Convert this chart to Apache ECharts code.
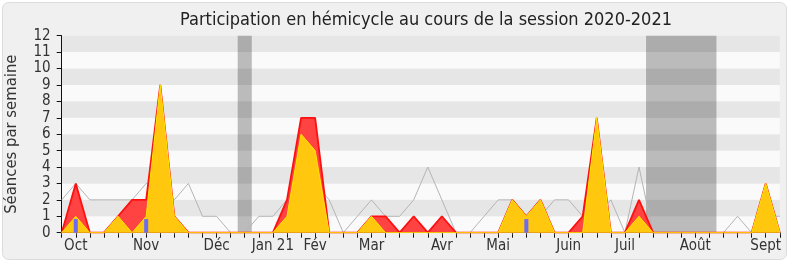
<!DOCTYPE html>
<html><head><meta charset="utf-8">
<script src="https://cdn.jsdelivr.net/npm/echarts@6/dist/echarts.min.js"></script>
<style>html,body{margin:0;padding:0;background:#fff}#c{width:790px;height:267px}</style>
</head><body><div id="c"></div>
<script>
// weekly data, week index 0..51
const presences = [0,3,0,0,1,2,2,9,1,0,0,0,0,0,0,0,2,7,7,0,0,0,1,1,0,1,0,1,0,0,0,0,2,1,2,0,0,1,7,0,0,2,0,0,0,0,0,0,0,0,3,0];
const interventions = [0,1,0,0,1,0,1,9,1,0,0,0,0,0,0,0,1,6,5,0,0,0,1,0,0,0,0,0,0,0,0,0,2,1,2,0,0,0,7,0,0,1,0,0,0,0,0,0,0,0,3,0];
const mediane = [2,3,2,2,2,2,3,3,2,3,1,1,0,0,1,1,2,3,3,2,0,1,2,1,1,2,4,2,0,0,1,2,2,1,1,2,2,1,1,2,0,4,0,0,0,0,0,0,1,0,1,1];
const questionWeeks = [1,6,33];
const questionValues = [0.83,0.83,0.83];
const monthWeeks = [1,6,11,15,18,22,27,31,36,40,45,50];
const monthLabels = ['Oct','Nov','Déc','Jan 21','Fév','Mar','Avr','Mai','Juin','Juil','Août','Sept'];
const vacations = [[12.5,13.5],[41.5,46.5]];
const yTicks = [0,1,2,3,4,5,6,7,8,9,10,11,12];

const FONT = "'DejaVu Sans Condensed','DejaVu Sans',sans-serif";
const pair = arr => arr.map((v,i)=>[i,v]);
const labelMap = {};
monthWeeks.forEach((w,i)=>labelMap[w]=monthLabels[i]);

const chart = echarts.init(document.getElementById('c'), null, {renderer:'canvas'});
chart.setOption({
  animation:false,
  backgroundColor:'transparent',
  graphic:[
    {type:'rect', z:-10, shape:{x:2.5,y:2.5,width:784,height:257,r:6}, style:{fill:'#f0f0f0',stroke:'#dcdcdc',lineWidth:1}},
    {type:'text', z:10, x:426, y:20, style:{text:'Participation en hémicycle au cours de la session 2020-2021', font:"18px "+FONT, fill:'#222', align:'center', verticalAlign:'middle'}}
  ],
  grid:{left:61.7, right:10.2, top:35.7, bottom:34.3, containLabel:false, outerBoundsMode:'none'},
  xAxis:[{
    type:'value', min:0, max:51, interval:1,
    axisLine:{show:true, onZero:false, lineStyle:{color:'#111',width:1}},
    axisTick:{show:true, inside:false, length:5, lineStyle:{color:'#111'}},
    splitLine:{show:false},
    axisLabel:{show:true, margin:6, fontSize:15, fontFamily:FONT, color:'#333', showMinLabel:true, showMaxLabel:true, hideOverlap:false,
      formatter:v=> labelMap[Math.round(v)] || ''}
  },{
    type:'value', min:0, max:51, interval:1, position:'top',
    axisLine:{show:false},
    axisTick:{show:true, inside:true, length:2, lineStyle:{color:'#444'}},
    axisLabel:{show:false}, splitLine:{show:false}
  }],
  yAxis:{
    type:'value', min:0, max:12, interval:1,
    name:'Séances par semaine', nameLocation:'middle', nameRotate:90, nameGap:41,
    nameTextStyle:{fontSize:16.5, fontFamily:FONT, color:'#333'},
    axisLine:{show:true, lineStyle:{color:'#111'}},
    axisTick:{show:true, length:5, lineStyle:{color:'#111'}},
    axisLabel:{margin:11, fontSize:15, fontFamily:FONT, color:'#333', showMinLabel:true, showMaxLabel:true, hideOverlap:false,
      formatter:v=>yTicks.includes(v)?String(v):''},
    splitLine:{show:false},
    splitArea:{show:true, areaStyle:{color:['#fafafa','#e6e6e6']}}
  },
  series:[
    {type:'line', name:'mediane', data:pair(mediane), symbol:'none', z:2,
     lineStyle:{color:'#b4b4b4', width:1},
     markArea:{silent:true, itemStyle:{color:'rgba(0,0,0,0.25)'}, data:vacations.map(v=>[{xAxis:v[0]},{xAxis:v[1]}])}},
    {type:'line', name:'presences', data:pair(presences), symbol:'none', z:3,
     lineStyle:{color:'#ff1010', width:1.8}, areaStyle:{color:'#ff3c3c', opacity:0.97, origin:0}},
    {type:'line', name:'interventions', data:pair(interventions), symbol:'none', z:4,
     lineStyle:{color:'#ffe600', width:1}, areaStyle:{color:'#ffd20a', opacity:0.93, origin:0}},
    {type:'bar', name:'questions', data:questionWeeks.map((w,i)=>[w,questionValues[i]]), barWidth:4, z:5,
     itemStyle:{color:'#6b6bf5'}}
  ]
});
</script></body></html>
